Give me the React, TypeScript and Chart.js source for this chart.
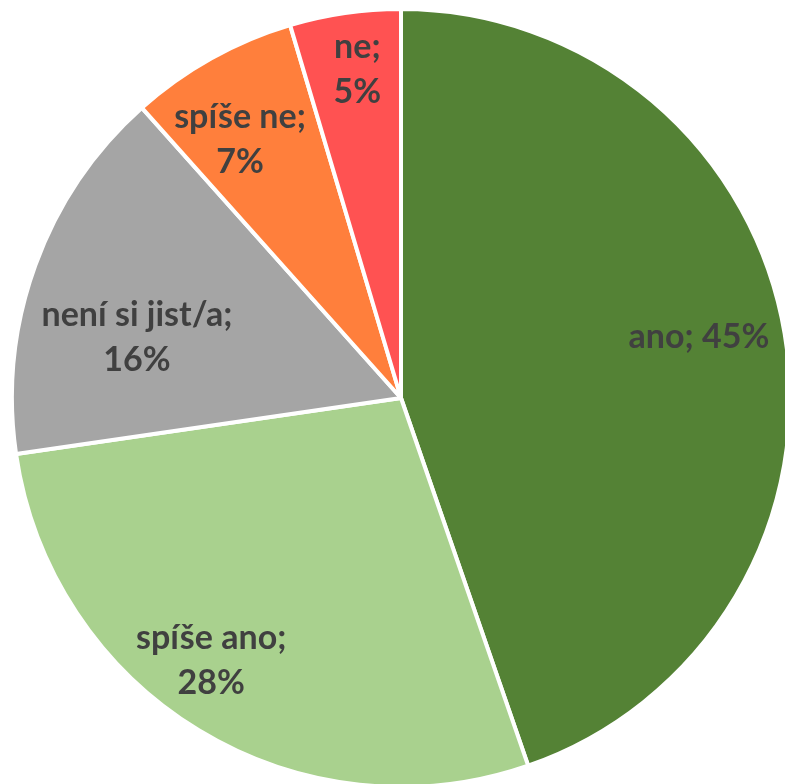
import React, { useEffect, useRef } from "react";
import { Chart, registerables } from "chart.js";

Chart.register(...registerables);

const categories = ["ano", "spíše ano", "není si jist/a", "spíše ne", "ne"];
const values = [44.7, 28.0, 15.7, 7.0, 4.6];
const colors = ["#548235", "#A9D18E", "#A5A5A5", "#FF7F3C", "#FF5252"];
const singleLine = [true, false, false, false, false];

// label placement: fraction of radius and angular shift (deg) from slice mid
const labelRadiusFrac = [0.786, 0.838, 0.7, 0.786, 0.855];
const labelAngleShift = [-2.1, 4.5, -7, -2.8, 0.7];

const FONT = "bold 34px Lato, 'Open Sans', sans-serif";
const LINE_H = 45;

const labelPlugin = {
  id: "sliceLabels",
  afterDatasetsDraw(chart: any) {
    const ctx = chart.ctx;
    const meta = chart.getDatasetMeta(0);
    ctx.save();
    ctx.font = FONT;
    ctx.fillStyle = "#404040";
    ctx.textAlign = "center";
    ctx.textBaseline = "middle";
    meta.data.forEach((arc: any, i: number) => {
      const p = arc.getProps(["x", "y", "startAngle", "endAngle", "outerRadius"], true);
      const mid = (p.startAngle + p.endAngle) / 2 + (labelAngleShift[i] * Math.PI) / 180;
      const r = 387 * labelRadiusFrac[i];
      const cx = p.x + Math.cos(mid) * r;
      const cy = p.y + Math.sin(mid) * r;
      const pct = Math.round(values[i]) + "%";
      const lines = singleLine[i]
        ? [categories[i] + "; " + pct]
        : [categories[i] + ";", pct];
      const top = cy - ((lines.length - 1) * LINE_H) / 2;
      lines.forEach((ln, j) => ctx.fillText(ln, cx, top + j * LINE_H));
    });
    ctx.restore();
  },
};

export default function App() {
  const ref = useRef<HTMLCanvasElement | null>(null);
  useEffect(() => {
    if (!ref.current) return;
    const chart = new Chart(ref.current, {
      type: "pie",
      data: {
        labels: categories,
        datasets: [
          {
            data: values,
            backgroundColor: colors,
            borderColor: "#FFFFFF",
            borderWidth: 4,
          },
        ],
      },
      options: {
        responsive: false,
        animation: false,
        radius: 389,
        layout: { padding: 0 },
        plugins: {
          legend: { display: false },
          tooltip: { enabled: false },
        },
      },
      plugins: [labelPlugin],
    });
    return () => chart.destroy();
  }, []);
  return (
    <div
      style={{
        position: "fixed",
        left: 0,
        top: 0,
        width: 785,
        height: 784,
        overflow: "hidden",
        background: "#FFFFFF",
      }}
    >
      <canvas ref={ref} width={802} height={796} style={{ display: "block" }} />
    </div>
  );
}
